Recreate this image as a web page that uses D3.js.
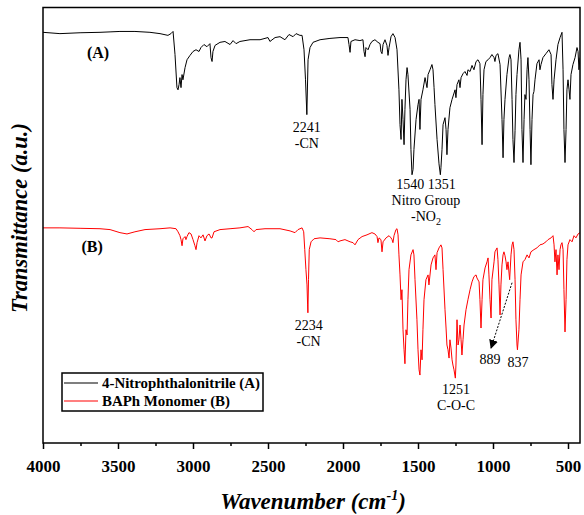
<!DOCTYPE html>
<html>
<head>
<meta charset="utf-8">
<script src="https://cdn.jsdelivr.net/npm/d3@7"></script>
<style>
  html, body { margin: 0; padding: 0; background: #fff; }
  svg { display: block; }
  text { font-family: "Liberation Serif", "Times New Roman", serif; }
</style>
</head>
<body>
<svg id="chart" width="584" height="515"></svg>
<script>
// FTIR spectra: wavenumber (cm-1) and transmittance (a.u., offset traces)
const waveA = [4000,3887,3753,3620,3553,3487,3387,3287,3220,3167,3147,3133,3120,3107,3100,3093,3087,3080,3073,3067,3053,3040,3020,3000,2980,2960,2947,2927,2907,2887,2880,2873,2867,2853,2820,2787,2753,2733,2713,2687,2620,2553,2500,2487,2453,2420,2387,2360,2333,2313,2287,2273,2260,2250,2241,2233,2220,2200,2153,2087,2020,1967,1960,1953,1947,1920,1887,1867,1860,1853,1847,1833,1820,1807,1787,1767,1753,1747,1740,1733,1720,1707,1700,1693,1680,1667,1653,1640,1627,1620,1613,1607,1600,1593,1587,1580,1573,1567,1553,1547,1540,1533,1527,1513,1500,1493,1487,1480,1467,1453,1440,1433,1420,1407,1400,1393,1387,1373,1360,1351,1347,1340,1333,1320,1313,1307,1300,1287,1273,1253,1247,1240,1227,1220,1213,1200,1187,1173,1167,1153,1140,1127,1113,1100,1087,1080,1073,1067,1060,1047,1033,1020,1007,993,987,980,967,953,940,933,927,920,907,893,887,880,873,867,860,853,847,840,827,820,813,807,800,793,787,780,773,767,760,753,747,740,733,727,720,707,693,687,680,667,647,627,613,607,600,593,580,567,553,540,533,527,520,513,507,500,493,487,480,467,453,440,433,427,420];
const transA = [94.3,94.0,94.2,94.3,94.4,94.5,94.5,94.3,94.0,93.6,94.0,94.5,89.2,81.6,81.1,82.3,83.9,81.6,84.6,83.4,86.2,88.0,89.0,89.9,90.3,89.9,90.8,91.5,91.0,91.7,88.5,87.6,89.9,91.3,92.0,92.2,91.5,92.4,91.7,92.2,92.6,92.6,93.1,92.2,93.1,93.3,92.6,93.8,93.3,94.0,93.6,93.6,90.3,83.4,75.4,88.0,90.8,92.0,92.6,92.9,93.1,93.1,91.5,89.7,92.2,92.6,92.4,92.6,89.9,88.7,90.8,90.3,91.5,92.2,92.6,92.0,91.7,89.9,89.4,91.5,92.6,91.3,89.0,90.8,93.3,94.0,93.1,90.3,81.1,73.1,69.7,78.9,74.3,68.5,76.6,83.4,86.2,84.6,76.6,67.4,61.6,62.8,67.4,74.3,77.7,78.9,72.0,78.9,81.1,83.9,81.6,84.6,85.7,86.9,85.7,81.6,77.7,69.7,64.1,61.6,63.2,67.4,73.1,74.7,72.0,66.2,72.0,77.0,78.9,81.1,79.3,82.3,83.4,81.6,83.9,84.8,85.3,84.4,85.7,85.3,86.7,85.7,87.6,88.0,87.1,78.9,68.5,80.0,85.7,87.6,88.0,88.5,89.2,88.5,87.6,89.0,89.4,86.9,74.3,65.5,74.3,78.9,84.6,88.5,89.2,88.0,78.9,69.7,64.4,71.8,80.0,84.6,90.3,92.0,88.0,72.0,64.4,74.3,80.0,78.9,85.7,88.5,83.4,72.0,63.9,74.3,80.0,80.7,83.4,87.1,88.0,85.7,86.9,88.5,89.4,90.3,89.2,82.3,78.9,83.4,88.0,91.5,93.1,94.3,85.7,72.0,64.4,72.0,81.1,83.4,81.1,78.9,84.6,86.9,88.5,90.8,89.9,85.7,88.5];

const waveB = [4000,3887,3753,3620,3553,3487,3440,3387,3320,3220,3153,3113,3100,3087,3080,3073,3067,3053,3047,3040,3027,3013,3000,2987,2980,2973,2960,2947,2933,2920,2907,2893,2880,2873,2860,2820,2753,2687,2633,2607,2593,2580,2520,2420,2353,2320,2300,2273,2262,2255,2247,2240,2236,2234,2230,2225,2213,2193,2153,2087,2047,2033,2020,1987,1953,1933,1920,1900,1873,1840,1807,1787,1773,1767,1760,1747,1740,1733,1713,1693,1680,1673,1667,1660,1647,1640,1633,1627,1620,1613,1607,1600,1593,1587,1580,1573,1567,1560,1547,1533,1527,1520,1507,1500,1493,1487,1480,1473,1467,1460,1447,1433,1427,1413,1400,1387,1380,1373,1360,1347,1340,1333,1320,1313,1307,1300,1293,1287,1280,1273,1267,1260,1251,1247,1240,1233,1227,1220,1213,1207,1200,1193,1180,1167,1153,1140,1127,1113,1107,1093,1087,1080,1073,1067,1053,1040,1033,1027,1020,1013,1007,993,987,973,967,960,953,947,940,933,927,920,913,907,900,889,880,873,867,860,853,847,840,837,827,820,813,800,787,773,760,747,727,707,687,667,647,633,613,600,593,587,580,573,567,560,553,547,540,533,527,520,513,507,500,487,473,460,447,433,420];
const transB = [49.4,49.4,49.3,49.2,49.0,48.3,48.0,48.5,49.0,49.2,49.4,49.2,48.5,47.6,46.7,45.3,46.9,47.4,46.7,47.4,48.3,48.0,46.7,45.3,44.4,46.0,47.6,47.1,47.8,46.4,47.6,48.0,47.1,47.1,48.5,49.0,49.2,49.4,49.7,49.0,48.5,49.0,49.2,49.2,48.7,48.3,49.0,49.4,48.5,44.4,39.8,36.3,31.7,29.9,37.5,44.4,46.2,46.9,47.1,46.9,46.7,46.2,46.4,46.7,46.2,46.0,45.5,46.7,47.4,47.8,48.3,48.0,47.4,46.0,47.1,46.7,43.9,46.2,47.1,47.6,47.1,46.7,46.0,47.6,49.0,49.2,47.8,43.2,38.6,32.9,35.2,26.0,21.4,18.2,26.0,24.8,32.9,39.8,43.2,44.4,43.2,37.5,28.3,21.4,16.8,15.6,21.4,19.1,26.0,32.9,37.5,38.6,36.3,40.9,42.5,43.2,39.8,43.7,44.8,45.5,44.8,39.8,30.6,26.4,22.5,21.4,19.5,23.7,21.8,19.1,17.9,16.8,14.9,17.9,28.3,22.5,23.7,27.1,23.7,20.2,23.7,27.1,30.6,32.9,35.2,37.0,38.2,38.6,37.9,37.0,32.9,26.4,32.9,37.5,40.2,41.6,42.5,38.6,32.9,28.7,37.5,41.6,43.9,44.8,42.1,36.3,29.4,36.3,40.9,43.2,43.9,43.0,41.6,39.8,41.6,37.5,43.2,45.5,46.2,44.4,37.5,28.3,22.5,21.4,26.0,32.9,38.6,41.6,42.1,43.2,42.5,43.9,44.4,44.8,45.5,45.7,46.2,46.7,47.1,47.6,45.5,41.6,44.4,38.6,43.2,39.8,44.4,45.5,46.0,44.4,35.2,25.5,32.9,42.1,45.5,46.7,46.2,47.6,47.1,48.0,48.3];

const majorTicks = [4000, 3500, 3000, 2500, 2000, 1500, 1000, 500];
const minorTicks = [3750, 3250, 2750, 2250, 1750, 1250, 750];
const seriesNames = ["4-Nitrophthalonitrile (A)", "BAPh Monomer (B)"];
const seriesColors = ["#000000", "#ff0000"];

// peak annotations: wavenumber position and height (a.u.) of each label line
const peakLabels = [
  { w: 2241, v: 71.5, lines: ["2241", "-CN"] },
  { w: 1447, v: 58.4, lines: ["1540 1351", "Nitro Group", "-NO|2"] },
  { w: 2229, v: 26.0, lines: ["2234", "-CN"] },
  { w: 1247, v: 11.3, lines: ["1251", "C-O-C"] },
  { w: 1020, v: 18.2, lines: ["889"] },
  { w: 833,  v: 17.5, lines: ["837"] }
];
const traceTags = [
  { w: 3633, v: 88.5, text: "(A)" },
  { w: 3673, v: 43.9, text: "(B)" }
];
// dashed pointer to the 889 band
const arrowFrom = { w: 873, v: 36.8 };
const arrowTo = { w: 1013, v: 21.8 };

const svg = d3.select("#chart");
const plot = { left: 43, right: 580, top: 7.5, bottom: 443 };

const x = d3.scaleLinear().domain([4000, 420]).range([plot.left, plot.right]);
const y = d3.scaleLinear().domain([0, 100]).range([plot.bottom, plot.top]);

const line = d3.line().x(d => x(d[0])).y(d => y(d[1]));

svg.append("clipPath").attr("id", "plotClip")
  .append("rect")
  .attr("x", plot.left).attr("y", plot.top)
  .attr("width", plot.right - plot.left).attr("height", plot.bottom - plot.top);

const traces = [
  d3.zip(waveA, transA),
  d3.zip(waveB, transB)
];

svg.append("g").attr("clip-path", "url(#plotClip)")
  .selectAll("path")
  .data(traces)
  .join("path")
  .attr("d", line)
  .attr("fill", "none")
  .attr("stroke", (d, i) => seriesColors[i])
  .attr("stroke-width", 1)
  .attr("stroke-linejoin", "round");

// frame
svg.append("rect")
  .attr("x", plot.left).attr("y", plot.top)
  .attr("width", plot.right - plot.left).attr("height", plot.bottom - plot.top)
  .attr("fill", "none").attr("stroke", "#000").attr("stroke-width", 1.5);

// bottom axis: major ticks with labels, minor ticks without
const axisMajor = d3.axisBottom(x).tickValues(majorTicks).tickSize(6).tickPadding(11).tickFormat(d3.format("d"));
const gMajor = svg.append("g").attr("transform", `translate(0,${plot.bottom})`).call(axisMajor);
gMajor.select(".domain").remove();
gMajor.selectAll("line").attr("stroke", "#000").attr("stroke-width", 1.5);
gMajor.selectAll("text")
  .attr("font-family", '"Liberation Serif", "Times New Roman", serif')
  .attr("font-size", 17).attr("font-weight", "bold").attr("fill", "#000");

const axisMinor = d3.axisBottom(x).tickValues(minorTicks).tickSize(3).tickFormat("");
const gMinor = svg.append("g").attr("transform", `translate(0,${plot.bottom})`).call(axisMinor);
gMinor.select(".domain").remove();
gMinor.selectAll("line").attr("stroke", "#000").attr("stroke-width", 1.5);

// axis titles
const xTitle = svg.append("text")
  .attr("x", 313).attr("y", 509)
  .attr("text-anchor", "middle")
  .attr("font-size", 23).attr("font-weight", "bold").attr("font-style", "italic");
xTitle.append("tspan").text("Wavenumber (cm");
xTitle.append("tspan").attr("font-size", 14).attr("dy", -9).text("-1");
xTitle.append("tspan").attr("dy", 9).text(")");

svg.append("text")
  .attr("transform", "translate(27,218) rotate(-90)")
  .attr("text-anchor", "middle")
  .attr("font-size", 22.5).attr("font-weight", "bold").attr("font-style", "italic")
  .text("Transmittance (a.u.)");

// trace tags
svg.selectAll("text.tag")
  .data(traceTags)
  .join("text")
  .attr("class", "tag")
  .attr("x", d => x(d.w)).attr("y", d => y(d.v))
  .attr("text-anchor", "middle")
  .attr("font-size", 16).attr("font-weight", "bold")
  .text(d => d.text);

// peak labels
const lineGap = 16;
peakLabels.forEach(p => {
  p.lines.forEach((s, k) => {
    const t = svg.append("text")
      .attr("x", x(p.w)).attr("y", y(p.v) + k * lineGap)
      .attr("text-anchor", "middle")
      .attr("font-size", 14);
    const parts = s.split("|");
    t.append("tspan").text(parts[0]);
    if (parts[1]) t.append("tspan").attr("font-size", 10).attr("dy", 4).text(parts[1]);
  });
});

// arrow
svg.append("defs").append("marker")
  .attr("id", "head").attr("viewBox", "0 0 10 10")
  .attr("refX", 9).attr("refY", 5)
  .attr("markerWidth", 9).attr("markerHeight", 9)
  .attr("markerUnits", "userSpaceOnUse")
  .attr("orient", "auto")
  .append("path").attr("d", "M0,0 L10,5 L0,10 Z").attr("fill", "#000");

svg.append("line")
  .attr("x1", x(arrowFrom.w)).attr("y1", y(arrowFrom.v))
  .attr("x2", x(arrowTo.w)).attr("y2", y(arrowTo.v))
  .attr("stroke", "#000").attr("stroke-width", 1)
  .attr("stroke-dasharray", "2,1.5")
  .attr("marker-end", "url(#head)");

// legend
const legendWidths = [158, 128];
const legend = svg.append("g").attr("transform", "translate(62,373)");
legend.append("rect")
  .attr("width", 201).attr("height", 38)
  .attr("fill", "#fff").attr("stroke", "#000").attr("stroke-width", 1.5);
const items = legend.selectAll("g.item")
  .data(seriesNames)
  .join("g")
  .attr("class", "item")
  .attr("transform", (d, i) => `translate(0,${10 + i * 18})`);
items.append("line")
  .attr("x1", 2).attr("x2", 36)
  .attr("stroke", (d, i) => seriesColors[i]).attr("stroke-width", 1.2);
items.append("text")
  .attr("x", 40).attr("dy", "0.35em")
  .attr("font-size", 14).attr("font-weight", "bold")
  .attr("textLength", (d, i) => legendWidths[i])
  .attr("lengthAdjust", "spacingAndGlyphs")
  .text(d => d);
</script>
</body>
</html>
